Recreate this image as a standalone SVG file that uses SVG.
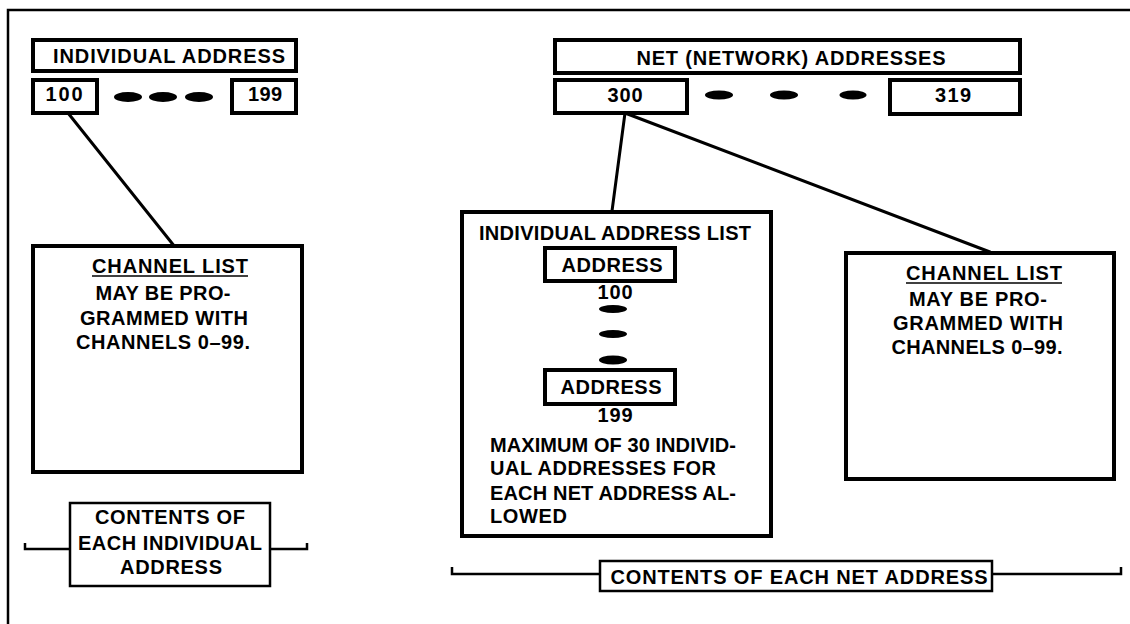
<svg xmlns="http://www.w3.org/2000/svg" width="1130" height="624" viewBox="0 0 1130 624">
<style>
.bg{fill:#fff}
.thick{fill:#fff;stroke:#000;stroke-width:4}
.thin{fill:#fff;stroke:#000;stroke-width:2.5}
.ln{fill:none;stroke:#000;stroke-width:3;stroke-linecap:round}
.br{fill:none;stroke:#000;stroke-width:2.5}
.ul{stroke:#000;stroke-width:1.5}
.dash{fill:#000}
text{font-family:"Liberation Sans",Arial,Helvetica,sans-serif;font-weight:bold;font-size:20px;fill:#000}
.m{text-anchor:middle}
</style>
<rect class="bg" x="0" y="0" width="1130" height="624"/>
<g id="frame">
<path class="br" d="M8,624 V10 H1130"/>
</g>
<g id="connectors">
<line class="ln" x1="68" y1="113" x2="175" y2="247"/>
<line class="ln" x1="625" y1="113" x2="612" y2="211"/>
<line class="ln" x1="625" y1="113" x2="990" y2="252"/>
<path class="br" d="M25,543 V549 H70"/>
<path class="br" d="M270,549 H307 V543"/>
<path class="br" d="M452,567 V574 H600"/>
<path class="br" d="M992,574 H1121 V567"/>
</g>
<g id="individual-address-header">
<rect class="thick" x="33" y="40" width="263" height="31"/>
<text x="169" y="63" class="m" textLength="232" lengthAdjust="spacing">INDIVIDUAL ADDRESS</text>
</g>
<g id="ind-100">
<rect class="thick" x="33" y="80" width="64" height="33"/>
<text x="64" y="101" class="m" textLength="37" lengthAdjust="spacing">100</text>
</g>
<g id="ind-dashes">
<ellipse class="dash" cx="128" cy="97" rx="14" ry="5"/>
<ellipse class="dash" cx="163" cy="97" rx="14" ry="5"/>
<ellipse class="dash" cx="199" cy="97" rx="14" ry="5"/>
</g>
<g id="ind-199">
<rect class="thick" x="232" y="80" width="64" height="33"/>
<text x="265" y="101" class="m" textLength="34" lengthAdjust="spacing">199</text>
</g>
<g id="ind-channel-list">
<rect class="thick" x="33" y="246" width="269" height="226"/>
<text x="170" y="273" class="m" textLength="156" lengthAdjust="spacing">CHANNEL LIST</text>
<line class="ul" x1="92" y1="276" x2="248" y2="276"/>
<text x="163" y="300" class="m" textLength="135" lengthAdjust="spacing">MAY BE PRO-</text>
<text x="164" y="325" class="m" textLength="168" lengthAdjust="spacing">GRAMMED WITH</text>
<text x="163" y="349" class="m" textLength="174" lengthAdjust="spacing">CHANNELS 0–99.</text>
</g>
<g id="ind-contents-label">
<rect class="thin" x="70" y="503" width="200" height="83"/>
<text x="170" y="524" class="m" textLength="150" lengthAdjust="spacing">CONTENTS OF</text>
<text x="170" y="550" class="m" textLength="184" lengthAdjust="spacing">EACH INDIVIDUAL</text>
<text x="171" y="574" class="m" textLength="102" lengthAdjust="spacing">ADDRESS</text>
</g>
<g id="net-header">
<rect class="thick" x="555" y="40" width="465" height="33"/>
<text x="791" y="65" class="m" textLength="309" lengthAdjust="spacing">NET (NETWORK) ADDRESSES</text>
</g>
<g id="net-300">
<rect class="thick" x="555" y="80" width="132" height="33"/>
<text x="625" y="102" class="m" textLength="35" lengthAdjust="spacing">300</text>
</g>
<g id="net-dashes">
<ellipse class="dash" cx="719" cy="95" rx="14" ry="4.5"/>
<ellipse class="dash" cx="784" cy="95" rx="14" ry="4.5"/>
<ellipse class="dash" cx="853" cy="95" rx="13.5" ry="4.5"/>
</g>
<g id="net-319">
<rect class="thick" x="890" y="80" width="130" height="34"/>
<text x="953" y="102" class="m" textLength="36" lengthAdjust="spacing">319</text>
</g>
<g id="ind-address-list">
<rect class="thick" x="462" y="212" width="309" height="324"/>
<text x="615" y="240" class="m" textLength="272" lengthAdjust="spacing">INDIVIDUAL ADDRESS LIST</text>
<rect class="thick" x="545" y="248" width="130" height="33"/>
<text x="612" y="272" class="m" textLength="101" lengthAdjust="spacing">ADDRESS</text>
<text x="615" y="299" class="m" textLength="35" lengthAdjust="spacing">100</text>
<ellipse class="dash" cx="613" cy="309" rx="14" ry="4"/>
<ellipse class="dash" cx="613" cy="334" rx="14" ry="4"/>
<ellipse class="dash" cx="613" cy="360" rx="14" ry="4.5"/>
<rect class="thick" x="545" y="370" width="130" height="34"/>
<text x="611" y="394" class="m" textLength="101" lengthAdjust="spacing">ADDRESS</text>
<text x="615" y="422" class="m" textLength="35" lengthAdjust="spacing">199</text>
<text x="490" y="452" textLength="246" lengthAdjust="spacing">MAXIMUM OF 30 INDIVID-</text>
<text x="490" y="475" textLength="226" lengthAdjust="spacing">UAL ADDRESSES FOR</text>
<text x="490" y="500" textLength="246" lengthAdjust="spacing">EACH NET ADDRESS AL-</text>
<text x="490" y="523" textLength="77" lengthAdjust="spacing">LOWED</text>
</g>
<g id="net-channel-list">
<rect class="thick" x="846" y="253" width="268" height="226"/>
<text x="984" y="280" class="m" textLength="156" lengthAdjust="spacing">CHANNEL LIST</text>
<line class="ul" x1="906" y1="283" x2="1062" y2="283"/>
<text x="978" y="306" class="m" textLength="138" lengthAdjust="spacing">MAY BE PRO-</text>
<text x="978" y="330" class="m" textLength="170" lengthAdjust="spacing">GRAMMED WITH</text>
<text x="977" y="354" class="m" textLength="171" lengthAdjust="spacing">CHANNELS 0–99.</text>
</g>
<g id="net-contents-label">
<rect class="thin" x="600" y="561" width="392" height="30"/>
<text x="799" y="584" class="m" textLength="377" lengthAdjust="spacing">CONTENTS OF EACH NET ADDRESS</text>
</g>
</svg>
